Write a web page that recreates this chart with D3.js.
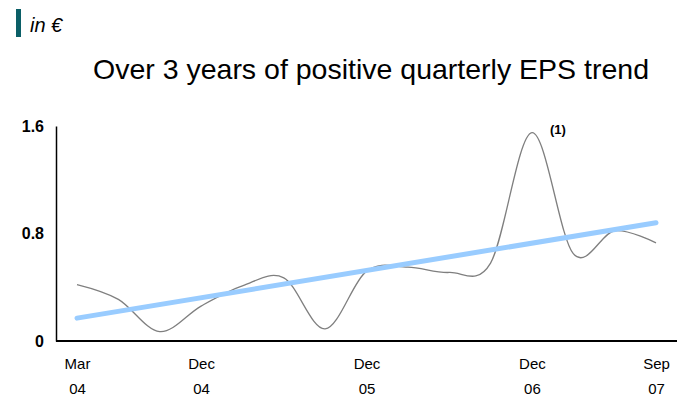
<!DOCTYPE html>
<html>
<head>
<meta charset="utf-8">
<script src="https://cdn.jsdelivr.net/npm/d3@7/dist/d3.min.js"></script>
<style>
  html, body { margin: 0; padding: 0; background: #fff; }
  svg { display: block; font-family: "Liberation Sans", Arial, sans-serif; }
</style>
</head>
<body>
<svg id="chart" width="677" height="397"></svg>
<script>
// Quarterly EPS, March 2004 to September 2007 (in €)
const quarters = ["Mar 04", "Jun 04", "Sep 04", "Dec 04", "Mar 05", "Jun 05", "Sep 05", "Dec 05",
                  "Mar 06", "Jun 06", "Sep 06", "Dec 06", "Mar 07", "Jun 07", "Sep 07"];
const eps = [0.42, 0.31, 0.07, 0.26, 0.41, 0.47, 0.09, 0.52,
             0.55, 0.51, 0.58, 1.55, 0.65, 0.82, 0.73];
// Linear trend: value at the first and at the last quarter
const trendQuarters = ["Mar 04", "Sep 07"];
const trendValues = [0.17, 0.88];
// Quarters carrying an axis label (month / year on two lines)
const tickQuarters = ["Mar 04", "Dec 04", "Dec 05", "Dec 06", "Sep 07"];
const yTicks = [0, 0.8, 1.6];
const footnoteQuarter = "Dec 06";
const footnoteText = "(1)";

const svg = d3.select("#chart");

const x = d3.scalePoint().domain(quarters).range([77, 656]);
const y = d3.scaleLinear().domain([0, 1.6]).range([341, 126]);

// Header: unit marker with bar
svg.append("rect").attr("x", 16).attr("y", 9).attr("width", 5).attr("height", 28).attr("fill", "#0b5f67");
svg.append("text").attr("x", 30).attr("y", 32)
  .attr("font-size", 20).attr("font-style", "italic").attr("fill", "#000").text("in €");

// Title
svg.append("text").attr("x", 371).attr("y", 79).attr("text-anchor", "middle")
  .attr("font-size", 28.5).attr("fill", "#000").text("Over 3 years of positive quarterly EPS trend");

// Y axis
const yAxis = d3.axisLeft(y).tickValues(yTicks).tickSize(0).tickPadding(12)
  .tickFormat(d => d === 0 ? "0" : d3.format(".1f")(d));
const gy = svg.append("g").attr("transform", "translate(56,0)").call(yAxis);
gy.select(".domain").attr("stroke", "#000").attr("stroke-width", 1.5);
gy.selectAll("text").attr("font-size", 16).attr("font-weight", "bold").attr("fill", "#000")
  .attr("font-family", "Liberation Sans, Arial, sans-serif");

// X axis (labels on two lines)
const xAxis = d3.axisBottom(x).tickValues(tickQuarters).tickSize(0).tickFormat("");
const gx = svg.append("g").attr("transform", "translate(0,341)").call(xAxis);
gx.select(".domain").attr("d", "M56,0H677").attr("stroke", "#000").attr("stroke-width", 2);
gx.selectAll(".tick").each(function(d) {
  const parts = d.split(" ");
  const t = d3.select(this).append("text").attr("text-anchor", "middle")
    .attr("font-size", 15).attr("fill", "#000")
    .attr("font-family", "Liberation Sans, Arial, sans-serif");
  t.append("tspan").attr("x", 0).attr("y", 28).text(parts[0]);
  t.append("tspan").attr("x", 0).attr("y", 53).text(parts[1]);
});

// Smoothed EPS line
const line = d3.line()
  .x((d, i) => x(quarters[i]))
  .y(d => y(d))
  .curve(d3.curveCardinal.tension(0));
svg.append("path").datum(eps).attr("d", line)
  .attr("fill", "none").attr("stroke", "#7f7f7f").attr("stroke-width", 1.3);

// Trend line
const trendLine = d3.line().x((d, i) => x(trendQuarters[i])).y(d => y(d));
svg.append("path").datum(trendValues).attr("d", trendLine)
  .attr("fill", "none").attr("stroke", "#99ccff").attr("stroke-width", 5).attr("stroke-linecap", "round");

// Footnote marker beside the peak
const fi = quarters.indexOf(footnoteQuarter);
svg.append("text").attr("x", x(footnoteQuarter) + 26).attr("y", y(eps[fi]) + 1)
  .attr("text-anchor", "middle").attr("font-size", 13).attr("font-weight", "bold")
  .attr("fill", "#000").text(footnoteText);
</script>
</body>
</html>
